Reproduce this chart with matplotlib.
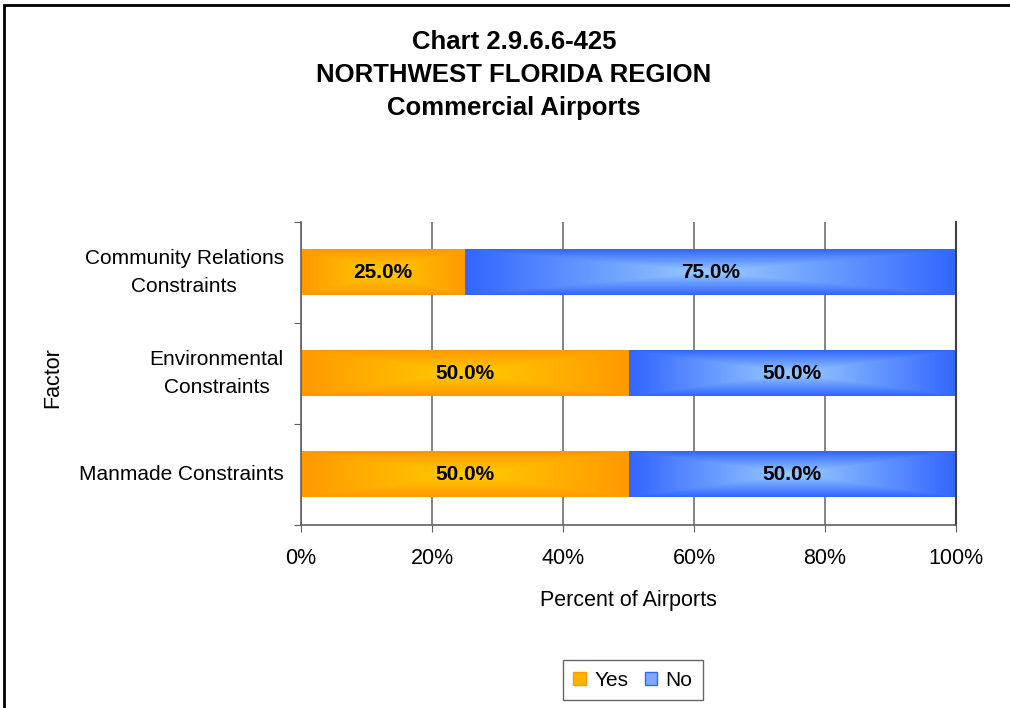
import numpy as np
import matplotlib
matplotlib.use('Agg')
import matplotlib.pyplot as plt
from matplotlib.colors import LinearSegmentedColormap
from matplotlib.patches import Patch, Rectangle
from matplotlib.ticker import FixedLocator, PercentFormatter

# data
categories = ['Manmade Constraints', 'Environmental\nConstraints', 'Community Relations\nConstraints']
yes_pct = [50.0, 50.0, 25.0]
no_pct = [50.0, 50.0, 75.0]
series_names = ['Yes', 'No']
x_ticks = [0, 20, 40, 60, 80, 100]

plt.rcParams['font.family'] = ['Liberation Sans', 'DejaVu Sans']

# colours (centre -> edge)
orange_cmap = LinearSegmentedColormap.from_list('orange', ['#FFCC00', '#FF9900'])
blue_cmap = LinearSegmentedColormap.from_list('blue', ['#99CCFF', '#3366FF'])


def gradient_fill(ax, rect, cmap):
    # rectangular "from centre" gradient like Excel
    x0, y0 = rect.get_x(), rect.get_y()
    w, h = rect.get_width(), rect.get_height()
    u = np.abs(np.linspace(-1, 1, 200))[None, :]
    v = np.abs(np.linspace(-1, 1, 60))[:, None]
    t = np.maximum(u, v)
    ax.imshow(t, cmap=cmap, vmin=0, vmax=1, extent=[x0, x0 + w, y0, y0 + h],
              aspect='auto', interpolation='bilinear', zorder=2)


fig = plt.figure(figsize=(10.1, 7.08), dpi=100)
ax = fig.add_axes([301 / 1010, 1 - 525 / 708, 655 / 1010, 303 / 708])

ypos = np.arange(len(categories))
bar_h = 1 / 2.2
bars_yes = ax.barh(ypos, yes_pct, height=bar_h, color='none', zorder=2)
bars_no = ax.barh(ypos, no_pct, left=yes_pct, height=bar_h, color='none', zorder=2)

for rect in bars_yes:
    gradient_fill(ax, rect, orange_cmap)
for rect in bars_no:
    gradient_fill(ax, rect, blue_cmap)

# value labels
for bars, vals in [(bars_yes, yes_pct), (bars_no, no_pct)]:
    for rect, v in zip(bars, vals):
        ax.text(rect.get_x() + rect.get_width() / 2, rect.get_y() + rect.get_height() / 2,
                f'{v:.1f}%', ha='center', va='center', fontsize=15, fontweight='bold', zorder=3)

ax.set_xlim(0, 100)
ax.set_ylim(-0.5, len(categories) - 0.5)

ax.xaxis.set_major_locator(FixedLocator(x_ticks))
ax.xaxis.set_major_formatter(PercentFormatter(decimals=0))
ax.grid(axis='x', color='#707070', linewidth=1.2, zorder=1)
ax.set_axisbelow(True)

ax.yaxis.set_major_locator(FixedLocator(np.arange(-0.5, len(categories), 1.0)))
ax.yaxis.set_major_formatter(plt.NullFormatter())
ax.yaxis.set_minor_locator(FixedLocator(ypos))
ax.set_yticklabels(categories, minor=True)
ax.tick_params(axis='y', which='minor', length=0, pad=12.5, labelsize=15)
ax.tick_params(axis='y', which='major', length=5, color='#606060', direction='out')
ax.tick_params(axis='x', length=5, color='#606060', direction='out', pad=11.5, labelsize=15.5)
for lbl in ax.get_yticklabels(minor=True):
    lbl.set_horizontalalignment('right')
    lbl.set_verticalalignment('center')
    lbl.set_multialignment('center')
    lbl.set_linespacing(1.55)

ax.spines['top'].set_visible(False)
ax.spines['right'].set_color('#404040')
ax.spines['right'].set_linewidth(1.5)
ax.spines['left'].set_color('#606060')
ax.spines['bottom'].set_color('#606060')
ax.spines['left'].set_linewidth(1.2)
ax.spines['bottom'].set_linewidth(1.2)

ax.set_xlabel('Percent of Airports', fontsize=15.5, labelpad=15)
fig.text(53 / 1010, 1 - 378 / 708, 'Factor', rotation=90, ha='center', va='center', fontsize=15.5)

# title
fig.text(514 / 1010, 1 - 75 / 708, 'Chart 2.9.6.6-425\nNORTHWEST FLORIDA REGION\nCommercial Airports',
         ha='center', va='center', fontsize=18.5, fontweight='bold', linespacing=1.45)

# legend
handles = [Patch(facecolor='#FFB300', edgecolor='#FF9900'),
           Patch(facecolor='#7FA8FF', edgecolor='#3366FF')]
fig.legend(handles, series_names, loc='center', bbox_to_anchor=(633 / 1010, 1 - 680 / 708),
           ncol=2, fontsize=15, frameon=True, fancybox=False, edgecolor='#404040',
           handlelength=0.6, handleheight=0.6, handletextpad=0.4, columnspacing=0.8,
           borderpad=0.5)

# outer frame (only left and top are inside the image)
fig.add_artist(Rectangle((4 / 1010, -0.1), 1.2, 1.1 - 5 / 708, transform=fig.transFigure,
                         fill=False, edgecolor='black', linewidth=2))

fig.savefig('out.png', dpi=100)
